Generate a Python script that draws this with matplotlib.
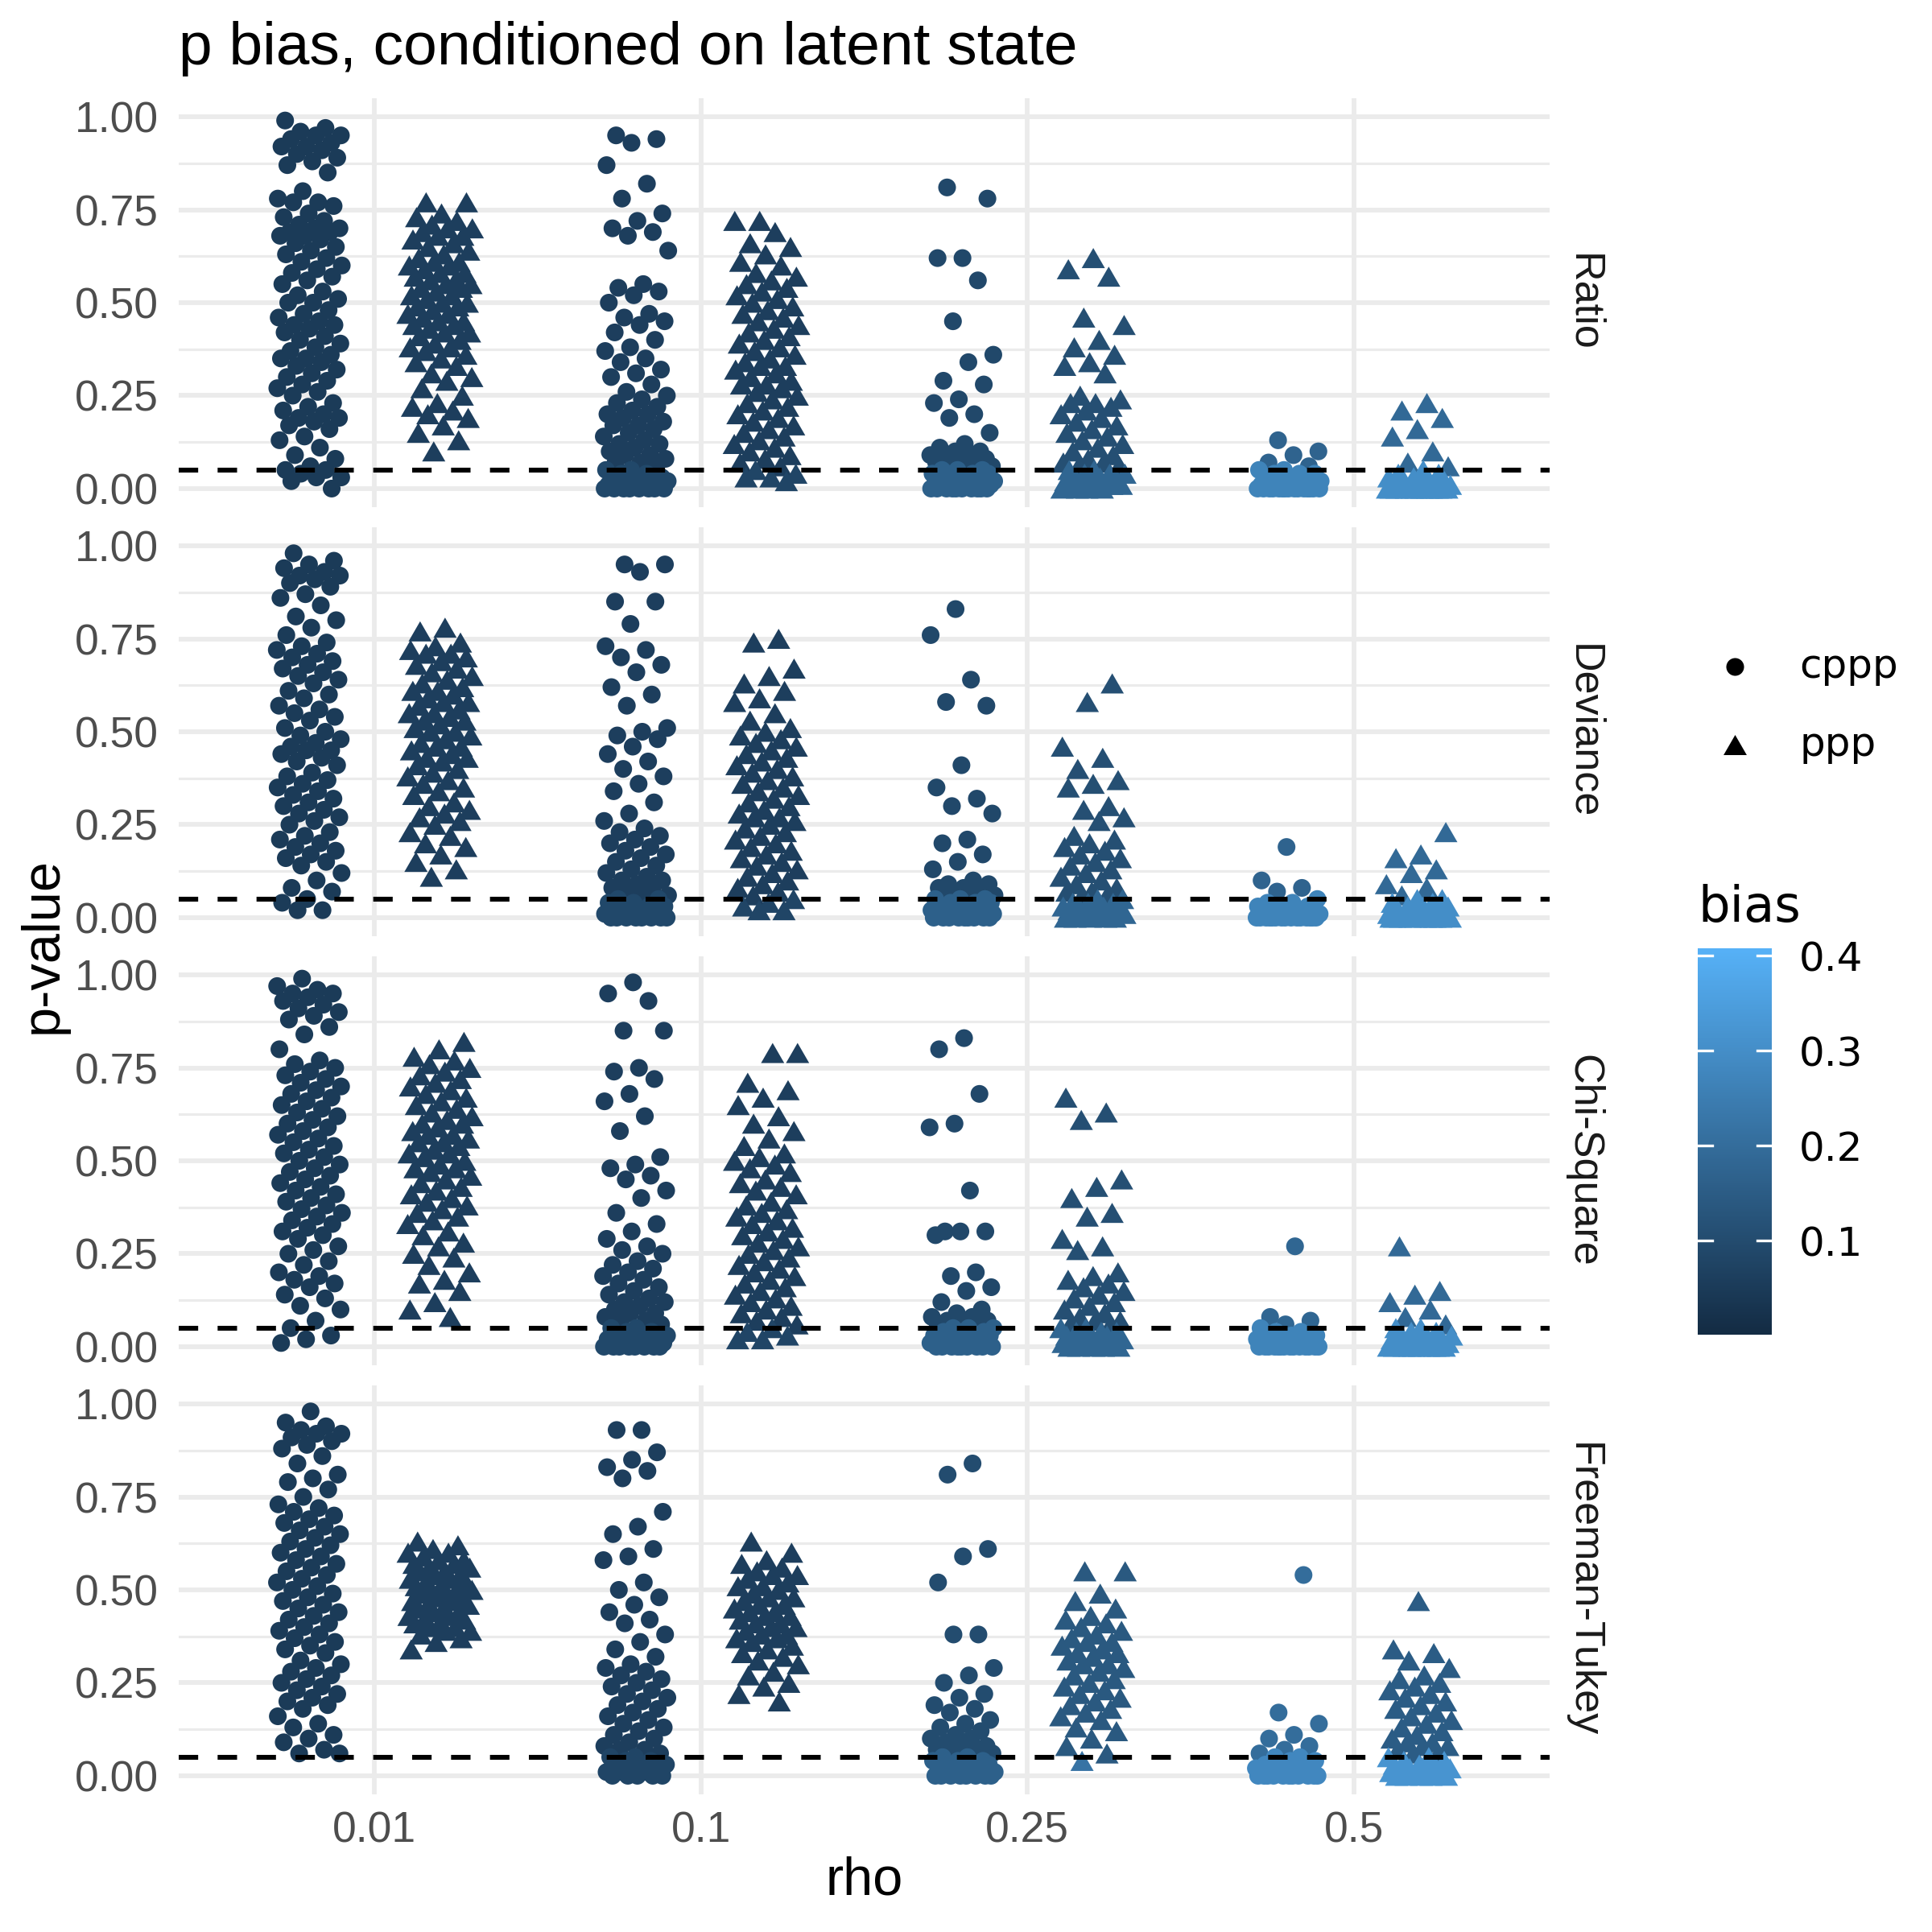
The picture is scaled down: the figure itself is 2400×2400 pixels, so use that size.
import numpy as np
import matplotlib
matplotlib.use("Agg")
import matplotlib.pyplot as plt
from matplotlib.colors import LinearSegmentedColormap, Normalize
from matplotlib.colorbar import ColorbarBase
from matplotlib.path import Path

# ---- data (p-values per group) ----
rho_labels = ["0.01", "0.1", "0.25", "0.5"]
stat_names = ["Ratio", "Deviance", "Chi-Square", "Freeman-Tukey"]

ratio_cppp = [
    [0.99, 0.97, 0.96, 0.95, 0.95, 0.94, 0.93, 0.92, 0.92, 0.91, 0.90, 0.89, 0.88, 0.87, 0.85, 0.80, 0.78, 0.77,
     0.77, 0.76, 0.74, 0.73, 0.72, 0.71, 0.70, 0.70, 0.69, 0.69, 0.68, 0.68, 0.67, 0.66, 0.65, 0.64, 0.63, 0.62,
     0.61, 0.60, 0.59, 0.58, 0.57, 0.56, 0.55, 0.53, 0.52, 0.51, 0.50, 0.50, 0.48, 0.47, 0.46, 0.45, 0.44, 0.44,
     0.43, 0.42, 0.41, 0.40, 0.39, 0.38, 0.37, 0.36, 0.35, 0.35, 0.34, 0.33, 0.32, 0.31, 0.30, 0.29, 0.28, 0.27,
     0.26, 0.25, 0.23, 0.22, 0.21, 0.20, 0.19, 0.19, 0.18, 0.17, 0.16, 0.14, 0.13, 0.11, 0.09, 0.08, 0.06, 0.05,
     0.05, 0.04, 0.03, 0.03, 0.02, 0.00],
    [0.95, 0.94, 0.93, 0.87, 0.82, 0.78, 0.74, 0.72, 0.70, 0.69, 0.68, 0.64, 0.55, 0.54, 0.53, 0.52, 0.50, 0.47,
     0.46, 0.45, 0.44, 0.42, 0.40, 0.38, 0.37, 0.35, 0.34, 0.32, 0.31, 0.30, 0.28, 0.26, 0.25, 0.24, 0.23, 0.22,
     0.21, 0.20, 0.20, 0.19, 0.18, 0.17, 0.17, 0.16, 0.15, 0.14, 0.13, 0.12, 0.12, 0.11, 0.10, 0.09, 0.09, 0.08,
     0.07, 0.07, 0.06, 0.05, 0.05, 0.04, 0.04, 0.03, 0.03, 0.03, 0.02, 0.02, 0.02, 0.01, 0.01, 0.01, 0.01, 0.01,
     0.00, 0.00, 0.00, 0.00, 0.00, 0.00, 0.00, 0.00],
    [0.81, 0.78, 0.62, 0.62, 0.56, 0.45, 0.36, 0.34, 0.29, 0.28, 0.24, 0.23, 0.20, 0.19, 0.15, 0.12, 0.11, 0.10,
     0.10, 0.09, 0.09, 0.08, 0.08, 0.07, 0.07, 0.07, 0.06, 0.06, 0.06, 0.05, 0.05, 0.05, 0.04, 0.04, 0.04, 0.04,
     0.03, 0.03, 0.03, 0.03, 0.02, 0.02, 0.02, 0.02, 0.02, 0.01, 0.01, 0.01, 0.01, 0.01, 0.01, 0.00, 0.00, 0.00,
     0.00, 0.00, 0.00, 0.00, 0.00, 0.00, 0.00],
    [0.13, 0.10, 0.09, 0.07, 0.06, 0.05, 0.05, 0.04, 0.04, 0.04, 0.03, 0.03, 0.03, 0.02, 0.02, 0.02, 0.02, 0.02,
     0.01, 0.01, 0.01, 0.01, 0.01, 0.01, 0.01, 0.00, 0.00, 0.00, 0.00, 0.00, 0.00, 0.00, 0.00, 0.00, 0.00, 0.00,
     0.00, 0.00, 0.00, 0.00],
]
ratio_ppp = [
    [0.77, 0.77, 0.74, 0.73, 0.72, 0.71, 0.70, 0.70, 0.69, 0.68, 0.68, 0.67, 0.66, 0.65, 0.64, 0.63, 0.62, 0.61,
     0.61, 0.60, 0.60, 0.59, 0.58, 0.58, 0.57, 0.56, 0.56, 0.55, 0.55, 0.54, 0.54, 0.53, 0.52, 0.52, 0.51, 0.50,
     0.50, 0.49, 0.49, 0.48, 0.47, 0.47, 0.46, 0.45, 0.45, 0.44, 0.44, 0.43, 0.42, 0.42, 0.41, 0.40, 0.39, 0.38,
     0.38, 0.37, 0.36, 0.35, 0.34, 0.33, 0.31, 0.30, 0.29, 0.27, 0.25, 0.23, 0.22, 0.21, 0.20, 0.19, 0.17, 0.15,
     0.13, 0.10],
    [0.72, 0.72, 0.69, 0.66, 0.65, 0.63, 0.61, 0.60, 0.58, 0.57, 0.56, 0.55, 0.54, 0.53, 0.52, 0.51, 0.50, 0.49,
     0.48, 0.47, 0.46, 0.45, 0.44, 0.43, 0.42, 0.41, 0.40, 0.39, 0.38, 0.37, 0.36, 0.35, 0.34, 0.33, 0.33, 0.32,
     0.31, 0.30, 0.29, 0.28, 0.28, 0.27, 0.26, 0.25, 0.24, 0.23, 0.22, 0.21, 0.20, 0.19, 0.18, 0.17, 0.16, 0.15,
     0.14, 0.13, 0.12, 0.11, 0.10, 0.09, 0.08, 0.07, 0.06, 0.05, 0.04, 0.03, 0.03, 0.02],
    [0.62, 0.59, 0.57, 0.46, 0.44, 0.40, 0.38, 0.36, 0.34, 0.33, 0.31, 0.25, 0.24, 0.23, 0.23, 0.22, 0.21, 0.20,
     0.19, 0.18, 0.17, 0.16, 0.15, 0.14, 0.13, 0.12, 0.11, 0.10, 0.09, 0.08, 0.07, 0.07, 0.06, 0.06, 0.05, 0.05,
     0.04, 0.04, 0.04, 0.03, 0.03, 0.03, 0.02, 0.02, 0.02, 0.02, 0.01, 0.01, 0.01, 0.01, 0.00, 0.00, 0.00, 0.00],
    [0.23, 0.21, 0.19, 0.16, 0.14, 0.10, 0.07, 0.06, 0.05, 0.04, 0.04, 0.03, 0.03, 0.02, 0.02, 0.02, 0.02, 0.01,
     0.01, 0.01, 0.01, 0.01, 0.01, 0.00, 0.00, 0.00, 0.00, 0.00, 0.00, 0.00, 0.00, 0.00, 0.00, 0.00, 0.00],
]

deviance_cppp = [
    [0.98, 0.96, 0.95, 0.94, 0.93, 0.92, 0.92, 0.91, 0.90, 0.89, 0.87, 0.86, 0.84, 0.81, 0.80, 0.78, 0.76, 0.74,
     0.73, 0.72, 0.71, 0.70, 0.69, 0.68, 0.67, 0.66, 0.65, 0.64, 0.63, 0.61, 0.60, 0.59, 0.57, 0.56, 0.55, 0.54,
     0.53, 0.51, 0.50, 0.49, 0.48, 0.47, 0.46, 0.45, 0.45, 0.44, 0.43, 0.42, 0.41, 0.39, 0.38, 0.37, 0.36, 0.35,
     0.34, 0.33, 0.32, 0.31, 0.30, 0.29, 0.28, 0.27, 0.26, 0.25, 0.23, 0.22, 0.21, 0.20, 0.19, 0.18, 0.17, 0.16,
     0.15, 0.14, 0.12, 0.10, 0.08, 0.07, 0.05, 0.04, 0.02, 0.02],
    [0.95, 0.95, 0.93, 0.85, 0.85, 0.79, 0.73, 0.72, 0.70, 0.68, 0.66, 0.62, 0.60, 0.57, 0.51, 0.50, 0.49, 0.48,
     0.46, 0.44, 0.42, 0.40, 0.38, 0.36, 0.34, 0.31, 0.28, 0.26, 0.24, 0.23, 0.22, 0.21, 0.20, 0.19, 0.18, 0.17,
     0.16, 0.15, 0.14, 0.13, 0.12, 0.11, 0.10, 0.10, 0.09, 0.08, 0.08, 0.07, 0.06, 0.06, 0.05, 0.05, 0.04, 0.04,
     0.03, 0.03, 0.03, 0.02, 0.02, 0.02, 0.01, 0.01, 0.01, 0.01, 0.00, 0.00, 0.00, 0.00, 0.00, 0.00, 0.00, 0.00],
    [0.83, 0.76, 0.64, 0.58, 0.57, 0.41, 0.35, 0.32, 0.30, 0.28, 0.21, 0.20, 0.17, 0.15, 0.13, 0.10, 0.09, 0.09,
     0.08, 0.08, 0.07, 0.07, 0.06, 0.06, 0.06, 0.05, 0.05, 0.05, 0.04, 0.04, 0.04, 0.03, 0.03, 0.03, 0.03, 0.02,
     0.02, 0.02, 0.02, 0.01, 0.01, 0.01, 0.01, 0.01, 0.00, 0.00, 0.00, 0.00, 0.00, 0.00, 0.00, 0.00, 0.00],
    [0.19, 0.10, 0.08, 0.07, 0.05, 0.04, 0.04, 0.03, 0.03, 0.03, 0.02, 0.02, 0.02, 0.02, 0.01, 0.01, 0.01, 0.01,
     0.01, 0.00, 0.00, 0.00, 0.00, 0.00, 0.00, 0.00, 0.00, 0.00, 0.00, 0.00, 0.00, 0.00, 0.00, 0.00],
]
deviance_ppp = [
    [0.78, 0.77, 0.74, 0.73, 0.72, 0.71, 0.71, 0.70, 0.69, 0.68, 0.67, 0.66, 0.65, 0.64, 0.63, 0.62, 0.61, 0.61,
     0.60, 0.59, 0.58, 0.58, 0.57, 0.56, 0.55, 0.55, 0.54, 0.53, 0.53, 0.52, 0.51, 0.50, 0.50, 0.49, 0.48, 0.47,
     0.46, 0.46, 0.45, 0.44, 0.43, 0.43, 0.42, 0.41, 0.40, 0.39, 0.38, 0.37, 0.36, 0.35, 0.34, 0.33, 0.31, 0.30,
     0.29, 0.28, 0.27, 0.26, 0.25, 0.23, 0.22, 0.20, 0.19, 0.17, 0.15, 0.13, 0.11],
    [0.75, 0.74, 0.67, 0.65, 0.63, 0.61, 0.59, 0.58, 0.55, 0.53, 0.51, 0.50, 0.49, 0.48, 0.47, 0.46, 0.45, 0.44,
     0.43, 0.42, 0.41, 0.40, 0.39, 0.38, 0.37, 0.36, 0.35, 0.34, 0.33, 0.32, 0.31, 0.30, 0.29, 0.28, 0.27, 0.27,
     0.26, 0.25, 0.24, 0.23, 0.22, 0.21, 0.20, 0.19, 0.18, 0.17, 0.16, 0.15, 0.14, 0.13, 0.12, 0.11, 0.10, 0.09,
     0.08, 0.07, 0.06, 0.05, 0.04, 0.03, 0.02, 0.02],
    [0.63, 0.58, 0.46, 0.43, 0.40, 0.37, 0.36, 0.35, 0.30, 0.29, 0.27, 0.26, 0.22, 0.21, 0.20, 0.19, 0.18, 0.17,
     0.16, 0.15, 0.14, 0.13, 0.12, 0.11, 0.10, 0.09, 0.08, 0.07, 0.07, 0.06, 0.06, 0.05, 0.05, 0.04, 0.04, 0.04,
     0.03, 0.03, 0.03, 0.02, 0.02, 0.02, 0.01, 0.01, 0.01, 0.01, 0.00, 0.00, 0.00, 0.00, 0.00],
    [0.23, 0.17, 0.16, 0.13, 0.12, 0.09, 0.08, 0.06, 0.05, 0.05, 0.04, 0.04, 0.03, 0.03, 0.03, 0.02, 0.02, 0.02,
     0.01, 0.01, 0.01, 0.01, 0.01, 0.00, 0.00, 0.00, 0.00, 0.00, 0.00, 0.00, 0.00, 0.00, 0.00],
]

chisq_cppp = [
    [0.99, 0.97, 0.96, 0.95, 0.95, 0.94, 0.93, 0.92, 0.91, 0.90, 0.89, 0.88, 0.86, 0.84, 0.80, 0.77, 0.76, 0.75,
     0.74, 0.73, 0.72, 0.71, 0.70, 0.69, 0.68, 0.67, 0.66, 0.65, 0.64, 0.63, 0.62, 0.61, 0.60, 0.59, 0.58, 0.57,
     0.56, 0.55, 0.54, 0.53, 0.52, 0.51, 0.50, 0.49, 0.48, 0.47, 0.46, 0.45, 0.44, 0.43, 0.42, 0.41, 0.40, 0.39,
     0.38, 0.37, 0.36, 0.35, 0.34, 0.33, 0.32, 0.31, 0.30, 0.29, 0.27, 0.26, 0.25, 0.23, 0.22, 0.20, 0.19, 0.18,
     0.17, 0.16, 0.14, 0.13, 0.11, 0.10, 0.07, 0.05, 0.03, 0.02, 0.01],
    [0.98, 0.95, 0.93, 0.85, 0.85, 0.75, 0.74, 0.72, 0.68, 0.66, 0.62, 0.58, 0.51, 0.49, 0.48, 0.46, 0.45, 0.42,
     0.40, 0.36, 0.33, 0.31, 0.29, 0.27, 0.26, 0.25, 0.23, 0.22, 0.21, 0.20, 0.19, 0.18, 0.17, 0.16, 0.15, 0.14,
     0.13, 0.12, 0.12, 0.11, 0.10, 0.09, 0.09, 0.08, 0.07, 0.07, 0.06, 0.05, 0.05, 0.04, 0.04, 0.03, 0.03, 0.03,
     0.02, 0.02, 0.02, 0.01, 0.01, 0.01, 0.01, 0.00, 0.00, 0.00, 0.00, 0.00, 0.00, 0.00, 0.00],
    [0.83, 0.80, 0.68, 0.60, 0.59, 0.42, 0.31, 0.31, 0.31, 0.30, 0.20, 0.19, 0.16, 0.15, 0.12, 0.10, 0.09, 0.08,
     0.08, 0.07, 0.07, 0.06, 0.06, 0.06, 0.05, 0.05, 0.05, 0.04, 0.04, 0.04, 0.03, 0.03, 0.03, 0.03, 0.02, 0.02,
     0.02, 0.02, 0.01, 0.01, 0.01, 0.01, 0.00, 0.00, 0.00, 0.00, 0.00, 0.00, 0.00, 0.00, 0.00],
    [0.27, 0.08, 0.07, 0.06, 0.05, 0.04, 0.04, 0.03, 0.03, 0.03, 0.02, 0.02, 0.02, 0.02, 0.01, 0.01, 0.01, 0.01,
     0.01, 0.00, 0.00, 0.00, 0.00, 0.00, 0.00, 0.00, 0.00, 0.00, 0.00, 0.00, 0.00, 0.00, 0.00],
]
chisq_ppp = [
    [0.82, 0.80, 0.78, 0.77, 0.76, 0.75, 0.74, 0.73, 0.72, 0.71, 0.70, 0.69, 0.68, 0.67, 0.66, 0.65, 0.64, 0.63,
     0.62, 0.61, 0.60, 0.60, 0.59, 0.58, 0.57, 0.57, 0.56, 0.55, 0.55, 0.54, 0.53, 0.52, 0.52, 0.51, 0.50, 0.49,
     0.48, 0.48, 0.47, 0.46, 0.45, 0.44, 0.43, 0.42, 0.41, 0.40, 0.39, 0.38, 0.37, 0.36, 0.35, 0.34, 0.33, 0.31,
     0.30, 0.28, 0.27, 0.25, 0.24, 0.22, 0.20, 0.18, 0.17, 0.15, 0.12, 0.10, 0.08],
    [0.79, 0.79, 0.71, 0.69, 0.67, 0.65, 0.62, 0.60, 0.58, 0.56, 0.54, 0.52, 0.51, 0.50, 0.49, 0.48, 0.47, 0.45,
     0.44, 0.43, 0.42, 0.41, 0.39, 0.38, 0.37, 0.36, 0.35, 0.34, 0.33, 0.32, 0.31, 0.30, 0.29, 0.28, 0.27, 0.26,
     0.25, 0.24, 0.23, 0.22, 0.21, 0.20, 0.19, 0.18, 0.17, 0.16, 0.15, 0.14, 0.13, 0.12, 0.11, 0.10, 0.09, 0.08,
     0.07, 0.06, 0.05, 0.04, 0.03, 0.02, 0.02],
    [0.67, 0.63, 0.61, 0.45, 0.43, 0.40, 0.36, 0.35, 0.29, 0.27, 0.26, 0.20, 0.19, 0.18, 0.17, 0.16, 0.15, 0.14,
     0.13, 0.12, 0.11, 0.10, 0.09, 0.08, 0.07, 0.07, 0.06, 0.06, 0.05, 0.05, 0.04, 0.04, 0.04, 0.03, 0.03, 0.03,
     0.02, 0.02, 0.02, 0.01, 0.01, 0.01, 0.01, 0.00, 0.00, 0.00, 0.00, 0.00],
    [0.27, 0.15, 0.14, 0.12, 0.10, 0.08, 0.06, 0.05, 0.05, 0.04, 0.04, 0.03, 0.03, 0.03, 0.02, 0.02, 0.02, 0.01,
     0.01, 0.01, 0.01, 0.01, 0.00, 0.00, 0.00, 0.00, 0.00, 0.00, 0.00, 0.00, 0.00, 0.00],
]

ft_cppp = [
    [0.98, 0.95, 0.94, 0.93, 0.92, 0.92, 0.91, 0.90, 0.89, 0.88, 0.86, 0.84, 0.81, 0.80, 0.79, 0.77, 0.75, 0.73,
     0.72, 0.71, 0.70, 0.69, 0.68, 0.67, 0.66, 0.65, 0.64, 0.63, 0.62, 0.61, 0.60, 0.59, 0.58, 0.57, 0.56, 0.55,
     0.54, 0.53, 0.52, 0.51, 0.50, 0.49, 0.48, 0.47, 0.46, 0.45, 0.44, 0.43, 0.42, 0.41, 0.40, 0.39, 0.38, 0.37,
     0.36, 0.35, 0.34, 0.33, 0.31, 0.30, 0.29, 0.28, 0.27, 0.26, 0.25, 0.24, 0.23, 0.22, 0.21, 0.20, 0.19, 0.18,
     0.16, 0.14, 0.13, 0.11, 0.10, 0.09, 0.07, 0.06, 0.06],
    [0.93, 0.93, 0.87, 0.85, 0.83, 0.82, 0.80, 0.71, 0.67, 0.65, 0.61, 0.59, 0.58, 0.52, 0.50, 0.48, 0.46, 0.44,
     0.42, 0.41, 0.38, 0.36, 0.34, 0.32, 0.30, 0.29, 0.28, 0.27, 0.26, 0.25, 0.24, 0.23, 0.22, 0.21, 0.20, 0.19,
     0.18, 0.17, 0.16, 0.15, 0.14, 0.13, 0.12, 0.11, 0.10, 0.09, 0.08, 0.07, 0.07, 0.06, 0.05, 0.05, 0.04, 0.04,
     0.03, 0.03, 0.02, 0.02, 0.02, 0.01, 0.01, 0.01, 0.00, 0.00, 0.00, 0.00, 0.00],
    [0.84, 0.81, 0.61, 0.59, 0.52, 0.38, 0.38, 0.29, 0.27, 0.25, 0.22, 0.21, 0.19, 0.18, 0.17, 0.15, 0.14, 0.13,
     0.12, 0.11, 0.10, 0.10, 0.09, 0.08, 0.08, 0.07, 0.07, 0.06, 0.06, 0.05, 0.05, 0.04, 0.04, 0.04, 0.03, 0.03,
     0.03, 0.02, 0.02, 0.02, 0.01, 0.01, 0.01, 0.01, 0.00, 0.00, 0.00, 0.00, 0.00, 0.00, 0.00, 0.00],
    [0.54, 0.17, 0.14, 0.11, 0.10, 0.08, 0.07, 0.06, 0.05, 0.05, 0.04, 0.04, 0.03, 0.03, 0.03, 0.02, 0.02, 0.02,
     0.01, 0.01, 0.01, 0.01, 0.01, 0.00, 0.00, 0.00, 0.00, 0.00, 0.00, 0.00, 0.00, 0.00, 0.00, 0.00],
]
ft_ppp = [
    [0.63, 0.62, 0.61, 0.60, 0.60, 0.59, 0.58, 0.58, 0.57, 0.57, 0.56, 0.56, 0.55, 0.55, 0.54, 0.54, 0.53, 0.53,
     0.52, 0.52, 0.51, 0.51, 0.50, 0.50, 0.50, 0.49, 0.49, 0.48, 0.48, 0.47, 0.47, 0.46, 0.46, 0.45, 0.45, 0.44,
     0.44, 0.43, 0.43, 0.42, 0.42, 0.41, 0.41, 0.40, 0.40, 0.39, 0.39, 0.38, 0.37, 0.36, 0.34],
    [0.63, 0.60, 0.58, 0.57, 0.56, 0.55, 0.54, 0.54, 0.53, 0.52, 0.51, 0.51, 0.50, 0.49, 0.48, 0.48, 0.47, 0.46,
     0.46, 0.45, 0.44, 0.44, 0.43, 0.43, 0.42, 0.41, 0.41, 0.40, 0.40, 0.39, 0.38, 0.38, 0.37, 0.37, 0.36, 0.35,
     0.34, 0.33, 0.32, 0.31, 0.30, 0.28, 0.27, 0.25, 0.24, 0.22, 0.20],
    [0.55, 0.55, 0.49, 0.47, 0.45, 0.43, 0.42, 0.41, 0.40, 0.39, 0.38, 0.37, 0.36, 0.36, 0.35, 0.34, 0.33, 0.33,
     0.32, 0.31, 0.30, 0.30, 0.29, 0.28, 0.27, 0.26, 0.25, 0.24, 0.23, 0.22, 0.21, 0.20, 0.19, 0.18, 0.17, 0.16,
     0.15, 0.13, 0.12, 0.10, 0.08, 0.06, 0.04],
    [0.47, 0.34, 0.33, 0.31, 0.29, 0.27, 0.26, 0.25, 0.24, 0.23, 0.22, 0.21, 0.20, 0.19, 0.18, 0.17, 0.16, 0.15,
     0.14, 0.13, 0.12, 0.11, 0.10, 0.09, 0.09, 0.08, 0.08, 0.07, 0.06, 0.06, 0.05, 0.05, 0.04, 0.04, 0.03, 0.03,
     0.03, 0.02, 0.02, 0.02, 0.01, 0.01, 0.01, 0.01, 0.00, 0.00, 0.00, 0.00, 0.00],
]

# bias colour per panel x rho group: points above / at-or-below the 0.05 line
bias_hi_cppp = [[0.05, 0.06, 0.09, 0.17], [0.05, 0.06, 0.09, 0.17], [0.05, 0.06, 0.09, 0.18], [0.05, 0.06, 0.10, 0.20]]
bias_lo_cppp = [[0.05, 0.09, 0.16, 0.27], [0.05, 0.09, 0.16, 0.27], [0.05, 0.09, 0.16, 0.27], [0.05, 0.08, 0.16, 0.28]]
bias_hi_ppp = [[0.06, 0.06, 0.11, 0.19], [0.06, 0.06, 0.11, 0.19], [0.06, 0.06, 0.11, 0.19], [0.06, 0.06, 0.14, 0.15]]
bias_lo_ppp = [[0.06, 0.08, 0.18, 0.30], [0.06, 0.08, 0.18, 0.30], [0.06, 0.08, 0.18, 0.30], [0.06, 0.08, 0.22, 0.32]]
bias_limits = [0.001, 0.408]
p_cut = 0.05

panels_cppp = [ratio_cppp, deviance_cppp, chisq_cppp, ft_cppp]
panels_ppp = [ratio_ppp, deviance_ppp, chisq_ppp, ft_ppp]

# ---- style ----
SANS = ["Liberation Sans", "DejaVu Sans"]
WIDE = ["DejaVu Sans"]
grid_col = "#EBEBEB"
txt_grey = "#4D4D4D"
cmap = LinearSegmentedColormap.from_list("gg", ["#132B43", "#56B1F7"])
norm = Normalize(bias_limits[0], bias_limits[1])

tri = Path([(-1, -0.866), (1, -0.866), (0, 0.866), (-1, -0.866)],
           [Path.MOVETO, Path.LINETO, Path.LINETO, Path.CLOSEPOLY])
S_CIRC = 28
S_TRI = 48


def jitter(n, phase):
    # deterministic spread inside the dodge slot
    k = np.arange(n)
    return ((k * 0.618034 + phase) % 1.0 - 0.5) * 0.2


def colours(p, hi, lo):
    return np.where(np.asarray(p) > p_cut, hi, lo)


W, H = 2400.0, 2400.0
fig = plt.figure(figsize=(8, 8), dpi=300)

left, right = 222, 1925
ph, gap, top0 = 508, 25, 122

for i in range(4):
    top = top0 + i * (ph + gap)
    ax = fig.add_axes([left / W, 1 - (top + ph) / H, (right - left) / W, ph / H])
    ax.set_xlim(0.4, 4.6)
    ax.set_ylim(-0.05, 1.05)
    for s in ax.spines.values():
        s.set_visible(False)
    ax.set_yticks([0, 0.25, 0.5, 0.75, 1.0])
    ax.set_yticklabels(["0.00", "0.25", "0.50", "0.75", "1.00"])
    ax.set_yticks([0.125, 0.375, 0.625, 0.875], minor=True)
    ax.set_xticks([1, 2, 3, 4])
    ax.grid(True, which="major", color=grid_col, lw=1.4, zorder=0)
    ax.grid(True, which="minor", axis="y", color=grid_col, lw=0.75, zorder=0)
    ax.tick_params(axis="both", which="both", length=0, labelsize=12.8, colors=txt_grey, pad=6)
    for lab in ax.get_yticklabels():
        lab.set_family(SANS)
    if i < 3:
        ax.set_xticklabels([])
    else:
        ax.set_xticklabels(rho_labels, family=SANS)
        ax.tick_params(axis="x", pad=5)
    ax.set_axisbelow(True)

    for j in range(4):
        pc = np.array(panels_cppp[i][j])
        pp = np.array(panels_ppp[i][j])
        xc = (j + 1) - 0.2 + jitter(len(pc), 0.13 * (i + 1) + 0.07 * j)
        xp = (j + 1) + 0.2 + jitter(len(pp), 0.29 * (i + 1) + 0.11 * j)
        ax.scatter(xc, pc, s=S_CIRC, marker="o", c=colours(pc, bias_hi_cppp[i][j], bias_lo_cppp[i][j]),
                   cmap=cmap, norm=norm, linewidths=0, zorder=3)
        ax.scatter(xp, pp, s=S_TRI, marker=tri, c=colours(pp, bias_hi_ppp[i][j], bias_lo_ppp[i][j]),
                   cmap=cmap, norm=norm, linewidths=0, zorder=3)

    ax.axhline(p_cut, color="black", lw=1.45, ls=(0, (4.0, 4.0)), zorder=4)
    ax.annotate(stat_names[i], xy=(1, 0.5), xycoords="axes fraction", xytext=(10, 0),
                textcoords="offset points", rotation=-90, ha="center", va="center",
                fontsize=12.5, color="#1A1A1A", family=SANS)

# titles
fig.text(left / W, 1 - 80 / H, "p bias, conditioned on latent state", fontsize=18,
         family=SANS, va="baseline", ha="left")
fig.text(54 / W, 1 - 1175 / H, "p-value", rotation=90, fontsize=16, family=SANS,
         ha="center", va="center")
fig.text((left + right) / 2 / W, 1 - 2337 / H, "rho", fontsize=16, family=SANS,
         ha="center", va="center")

# shape legend
lg = fig.add_axes([0, 0, 1, 1])
lg.set_xlim(0, W)
lg.set_ylim(H, 0)
lg.axis("off")
lg.scatter([2155], [828], s=S_CIRC, marker="o", color="black", linewidths=0)
lg.scatter([2155], [925], s=S_TRI, marker=tri, color="black", linewidths=0)
lg.text(2235, 828, "cppp", fontsize=12, family=WIDE, va="center", ha="left")
lg.text(2235, 925, "ppp", fontsize=12, family=WIDE, va="center", ha="left")
lg.text(2109, 1145, "bias", fontsize=15, family=WIDE, va="baseline", ha="left")

# colour bar
cax = fig.add_axes([2109 / W, 1 - 1658 / H, 92 / W, 480 / H])
cb = ColorbarBase(cax, cmap=cmap, norm=norm, ticks=[0.1, 0.2, 0.3, 0.4])
cb.outline.set_visible(False)
cb.ax.tick_params(length=0, pad=8, labelsize=12)
cb.ax.set_yticklabels(["0.1", "0.2", "0.3", "0.4"], family=WIDE)
for t in [0.1, 0.2, 0.3, 0.4]:
    cax.plot([0, 0.2], [t, t], color="white", lw=0.8, transform=cax.get_yaxis_transform())
    cax.plot([0.8, 1.0], [t, t], color="white", lw=0.8, transform=cax.get_yaxis_transform())

fig.savefig("out.png", dpi=300, facecolor="white")
